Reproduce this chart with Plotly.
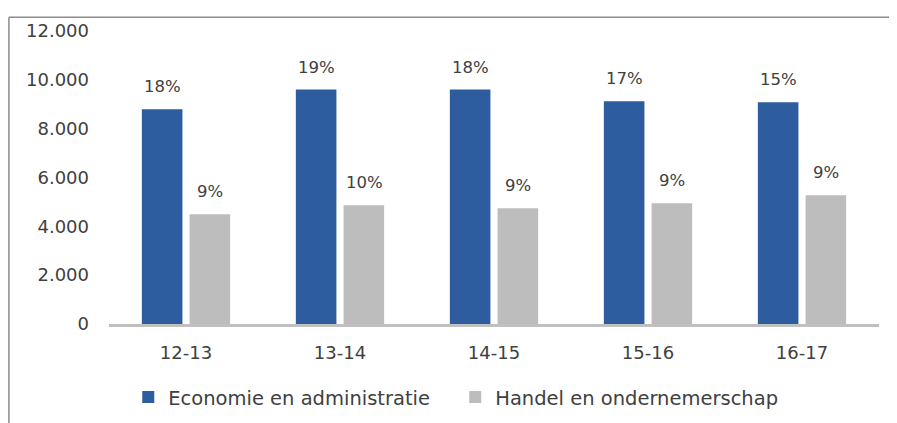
import plotly.graph_objects as go

categories = ["12-13", "13-14", "14-15", "15-16", "16-17"]
economie = [8800, 9600, 9600, 9120, 9080]
handel = [4500, 4860, 4740, 4950, 5270]
economie_pct = ["18%", "19%", "18%", "17%", "15%"]
handel_pct = ["9%", "10%", "9%", "9%", "9%"]
y_ticks = [0, 2000, 4000, 6000, 8000, 10000, 12000]
y_tick_labels = ["0", "2.000", "4.000", "6.000", "8.000", "10.000", "12.000"]

FONT = "DejaVu Sans"
TXT = "#404040"

fig = go.Figure()
fig.add_trace(go.Bar(name="Economie en administratie", x=categories, y=economie,
                     marker=dict(color="#2D5C9F", line=dict(width=0)),
                     hoverinfo="skip"))
fig.add_trace(go.Bar(name="Handel en ondernemerschap", x=categories, y=handel,
                     marker=dict(color="#BDBDBD", line=dict(width=0)),
                     hoverinfo="skip"))

# percentage labels above each bar
for series, labels, shift in ((economie, economie_pct, -24), (handel, handel_pct, 24)):
    for cat, val, lab in zip(categories, series, labels):
        fig.add_annotation(x=cat, y=val, text=lab, showarrow=False,
                           xshift=shift, yshift=11, yanchor="bottom",
                           font=dict(family=FONT, size=16.5, color=TXT))

# page body has an 8px offset; the layout is shifted to compensate
fig.update_layout(
    width=897, height=423,
    margin=dict(l=101, r=26, t=20, b=107),
    paper_bgcolor="white", plot_bgcolor="white",
    barmode="group", bargap=0.38, bargroupgap=0.15,
    font=dict(family=FONT, size=18, color=TXT),
    showlegend=True,
    legend=dict(orientation="h", x=0.025, y=-0.25, xanchor="left", yanchor="middle",
                font=dict(family=FONT, size=19.5, color=TXT),
                entrywidth=282, traceorder="normal"),
)
fig.update_xaxes(showline=True, linecolor="#C0C0C0", linewidth=2.5, ticks="",
                 showgrid=False, ticklabelstandoff=11,
                 tickfont=dict(family=FONT, size=18, color=TXT))
fig.update_yaxes(range=[0, 12000], tickvals=y_ticks, ticktext=y_tick_labels,
                 showgrid=False, showline=False, zeroline=False, ticks="",
                 ticklabelstandoff=19,
                 tickfont=dict(family=FONT, size=18, color=TXT))

# frame lines (top and left) in paper coordinates
fig.add_shape(type="line", xref="paper", yref="paper", x0=-0.1300, x1=1.05,
              y0=1.0473, y1=1.0473, line=dict(color="#8C8C8C", width=1.5))
fig.add_shape(type="line", xref="paper", yref="paper", x0=-0.1300, x1=-0.1300,
              y0=1.0473, y1=-0.40, line=dict(color="#8C8C8C", width=1.5))

fig.write_html("out.html")
